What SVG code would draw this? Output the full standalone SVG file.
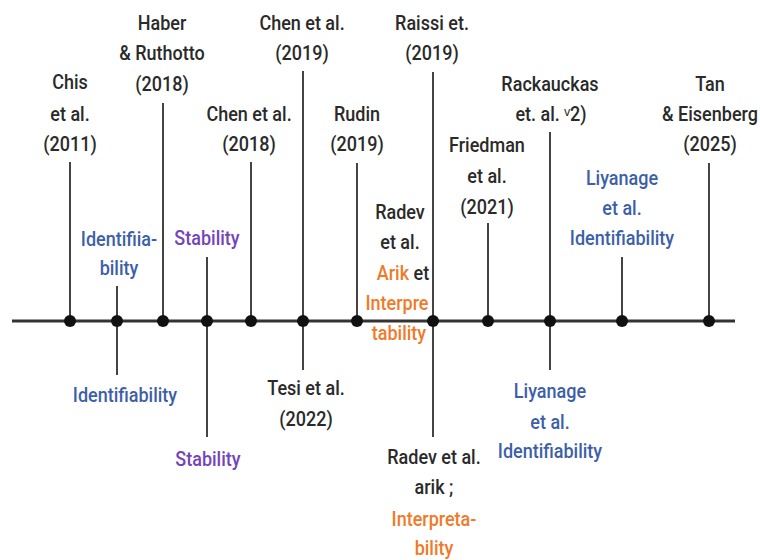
<svg xmlns="http://www.w3.org/2000/svg" width="760" height="560" viewBox="0 0 760 560">
<style>
text{font-family:Roboto,"Liberation Sans",sans-serif;font-size:20px;font-weight:500;text-anchor:middle;fill:#2a2a2a;transform:scale(0.9,1);transform-origin:0 0}
.b{fill:#3d5fa8}.p{fill:#7444bb}.o{fill:#f07a2a}
.v{stroke:#444;stroke-width:2}
.ax{stroke:#333;stroke-width:3}
circle{fill:#111}
</style>
<rect width="760" height="560" fill="#fff"/>
<g id="connectors">
<line class="ax" x1="12" y1="321" x2="735" y2="321"/>
<line class="v" x1="70" y1="162" x2="70" y2="321"/>
<line class="v" x1="117" y1="286" x2="117" y2="375"/>
<line class="v" x1="163" y1="103" x2="163" y2="321"/>
<line class="v" x1="207" y1="257" x2="207" y2="437"/>
<line class="v" x1="251" y1="162" x2="251" y2="321"/>
<line class="v" x1="303" y1="71" x2="303" y2="370"/>
<line class="v" x1="357" y1="163" x2="357" y2="321"/>
<line class="v" x1="433" y1="72" x2="433" y2="437"/>
<line class="v" x1="488" y1="223" x2="488" y2="321"/>
<line class="v" x1="550" y1="132" x2="550" y2="370"/>
<line class="v" x1="622" y1="257" x2="622" y2="321"/>
<line class="v" x1="709" y1="163" x2="709" y2="321"/>
</g>
<g id="chis"><circle cx="70" cy="321" r="6"/><text x="77.8" y="89">Chis</text><text x="77.8" y="121">et al.</text><text x="77.8" y="151">(2011)</text></g>
<g id="identifiability1"><circle cx="117" cy="321" r="6"/><text class="b" x="132.2" y="246">Identifiia-</text><text class="b" x="132.2" y="275">bility</text><text class="b" x="138.9" y="402">Identifiability</text></g>
<g id="haber"><circle cx="163" cy="321" r="6"/><text x="180" y="30">Haber</text><text x="180" y="60">&amp; Ruthotto</text><text x="180" y="91">(2018)</text></g>
<g id="stability"><circle cx="207" cy="321" r="6"/><text class="p" x="230" y="245">Stability</text><text class="p" x="231.1" y="466">Stability</text></g>
<g id="chen2018"><circle cx="251" cy="321" r="6"/><text x="276.7" y="121">Chen et al.</text><text x="276.7" y="151">(2018)</text></g>
<g id="chen2019"><circle cx="303" cy="321" r="6"/><text x="335.6" y="30">Chen et al.</text><text x="335.6" y="60">(2019)</text><text x="340" y="395">Tesi et al.</text><text x="340" y="426">(2022)</text></g>
<g id="rudin"><circle cx="357" cy="321" r="6"/><text x="396.7" y="121">Rudin</text><text x="396.7" y="151">(2019)</text></g>
<g id="radev-top"><text x="444.4" y="219">Radev</text><text x="444.4" y="249">et al.</text><text x="447.8" y="280"><tspan class="o">Arik</tspan> et</text><text class="o" x="441.1" y="310">Interpre</text><text class="o" x="443.3" y="340">tability</text></g>
<g id="raissi"><circle cx="433" cy="321" r="6"/><text x="480" y="30">Raissi et.</text><text x="480" y="60">(2019)</text><text x="482.2" y="464">Radev et al.</text><text x="482.2" y="494">arik ;</text><text class="o" x="482.2" y="526">Interpreta-</text><text class="o" x="482.2" y="555">bility</text></g>
<g id="friedman"><circle cx="488" cy="321" r="6"/><text x="541.1" y="152">Friedman</text><text x="541.1" y="183">et al.</text><text x="541.1" y="214">(2021)</text></g>
<g id="rackauckas"><circle cx="550" cy="321" r="6"/><text x="611.1" y="91">Rackauckas</text><text x="612.2" y="121">et. al. ᵛ2)</text><text class="b" x="611.1" y="398">Liyanage</text><text class="b" x="611.1" y="429">et al.</text><text class="b" x="611.1" y="458">Identifiability</text></g>
<g id="liyanage"><circle cx="622" cy="321" r="6"/><text class="b" x="691.1" y="185">Liyanage</text><text class="b" x="691.1" y="215">et al.</text><text class="b" x="691.1" y="245">Identifiability</text></g>
<g id="tan"><circle cx="709" cy="321" r="6"/><text x="788.9" y="91">Tan</text><text x="788.9" y="121">&amp; Eisenberg</text><text x="788.9" y="151">(2025)</text></g>
</svg>
